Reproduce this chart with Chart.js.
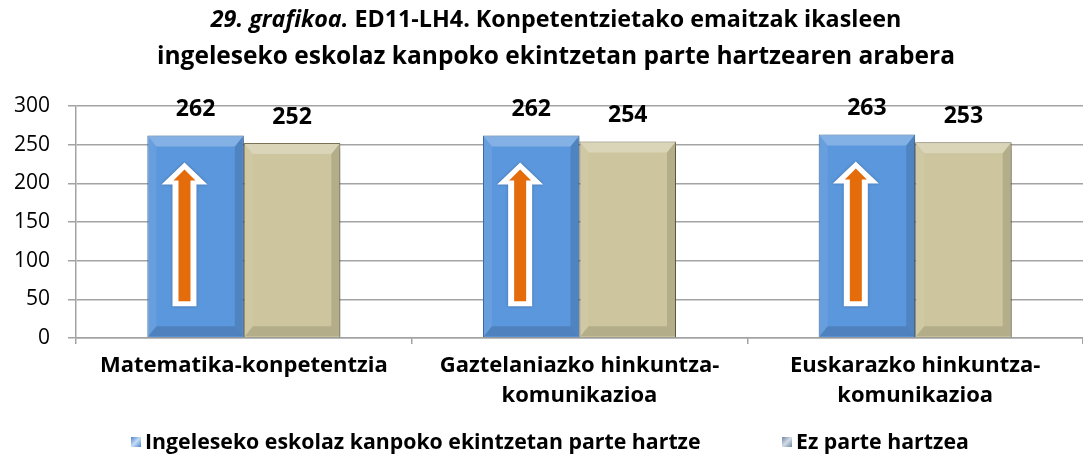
<!DOCTYPE html>
<html><head><meta charset="utf-8">
<script src="https://cdn.jsdelivr.net/npm/chart.js@4/dist/chart.umd.min.js"></script>
<style>html,body{margin:0;padding:0;background:#fff}canvas{display:block}</style>
</head><body>
<canvas id="c" width="1083" height="459"></canvas>
<script>
// ---- data ----
const titleLine1Italic = "29. grafikoa.";
const titleLine1Rest = " ED11-LH4. Konpetentzietako emaitzak ikasleen";
const titleLine2 = "ingeleseko eskolaz kanpoko ekintzetan parte hartzearen arabera";
const categories = [
  "Matematika-konpetentzia",
  ["Gaztelaniazko hinkuntza-", "komunikazioa"],
  ["Euskarazko hinkuntza-", "komunikazioa"]
];
const seriesNames = ["Ingeleseko eskolaz kanpoko ekintzetan parte hartze", "Ez parte hartzea"];
const participates = [262, 262, 263];
const notParticipates = [252, 254, 253];
const yTicks = [0, 50, 100, 150, 200, 250, 300];

// ---- style ----
const BOLD = "'Open Sans', sans-serif";
const GRID = "#a3a3a3";
const palette = [
  {body: "#5b97dc", top: "rgba(255,255,255,0.25)", left: "rgba(255,255,255,0.08)", right: "rgba(0,0,0,0.12)", bottom: "rgba(0,0,0,0.14)", border: "#3f6fa8"},
  {body: "#ccc59d", top: "rgba(255,255,255,0.28)", left: "rgba(255,255,255,0.06)", right: "rgba(0,0,0,0.12)", bottom: "rgba(0,0,0,0.12)", border: "#7e7757"}
];

const titlePlugin = {
  id: "mixedTitle",
  afterDraw(chart) {
    const ctx = chart.ctx;
    ctx.save();
    ctx.fillStyle = "#000";
    ctx.textBaseline = "middle";
    const cx = 556;
    const fI = "italic bold 23.3px " + BOLD, fB = "bold 23.3px " + BOLD;
    ctx.font = fI; const w1 = ctx.measureText(titleLine1Italic).width;
    ctx.font = fB; const w2 = ctx.measureText(titleLine1Rest).width;
    let x = cx - (w1 + w2) / 2;
    ctx.textAlign = "left";
    ctx.font = fI; ctx.fillText(titleLine1Italic, x, 20);
    ctx.font = fB; ctx.fillText(titleLine1Rest, x + w1, 20);
    ctx.font = "bold 24.5px " + BOLD;
    ctx.textAlign = "center";
    ctx.fillText(titleLine2, cx, 57);
    ctx.restore();
  }
};

const shadowPlugin = {
  id: "barShadow",
  beforeDatasetDraw(chart) {
    const ctx = chart.ctx;
    ctx.save();
    ctx.shadowColor = "rgba(0,0,0,0.35)";
    ctx.shadowBlur = 6;
    ctx.shadowOffsetX = 3;
    ctx.shadowOffsetY = 3;
  },
  afterDatasetDraw(chart) { chart.ctx.restore(); }
};

function poly(ctx, pts, color) {
  ctx.beginPath();
  ctx.moveTo(pts[0][0], pts[0][1]);
  for (let i = 1; i < pts.length; i++) ctx.lineTo(pts[i][0], pts[i][1]);
  ctx.closePath();
  ctx.fillStyle = color;
  ctx.fill();
}

const decoPlugin = {
  id: "deco",
  afterDatasetsDraw(chart) {
    const ctx = chart.ctx;
    ctx.save();
    chart.data.datasets.forEach((ds, di) => {
      const meta = chart.getDatasetMeta(di);
      const p = palette[di];
      meta.data.forEach((bar, i) => {
        const l = bar.x - bar.width / 2 + 1, r = bar.x + bar.width / 2 - 1;
        const t = bar.y + 1, b = bar.base - 1;
        const bv = 10, sv = 8;
        poly(ctx, [[l, t], [r, t], [r - sv, t + bv], [l + sv, t + bv]], p.top);
        poly(ctx, [[l, t], [l + sv, t + bv], [l + sv, b - bv], [l, b]], p.left);
        poly(ctx, [[r, t], [r, b], [r - sv, b - bv], [r - sv, t + bv]], p.right);
        poly(ctx, [[l, b], [l + sv, b - bv], [r - sv, b - bv], [r, b]], p.bottom);
        if (di === 0) {
          const cx = bar.x - bar.width * 0.115;
          const tip = bar.y + 27, bottom = bar.base - 31;
          ctx.shadowColor = "rgba(0,0,0,0.25)"; ctx.shadowBlur = 3;
          poly(ctx, [[cx, tip], [cx + 23, tip + 22], [cx + 12, tip + 22], [cx + 12, bottom],
                     [cx - 12, bottom], [cx - 12, tip + 22], [cx - 23, tip + 22]], "#ffffff");
          ctx.shadowColor = "transparent"; ctx.shadowBlur = 0;
          const t2 = tip + 7, b2 = bottom - 5;
          poly(ctx, [[cx, t2], [cx + 11, t2 + 11], [cx + 6, t2 + 11], [cx + 6, b2],
                     [cx - 6, b2], [cx - 6, t2 + 11], [cx - 11, t2 + 11]], "#e46c0a");
        }
        ctx.fillStyle = "#000";
        ctx.font = "bold 23px " + BOLD;
        ctx.textAlign = "center";
        ctx.textBaseline = "middle";
        ctx.fillText(String(ds.data[i]), bar.x, bar.y - 26);
      });
    });
    ctx.restore();
  }
};

const legendPlugin = {
  id: "customLegend",
  afterDraw(chart) {
    const ctx = chart.ctx;
    ctx.save();
    const xs = [131, 782];
    const y = 442;
    const boxCols = [["#c6ddf5", "#4a84cc"], ["#d3dbe6", "#6f86a3"]];
    chart.data.datasets.forEach((ds, i) => {
      const x = xs[i];
      const g = ctx.createLinearGradient(x, y - 5, x + 10, y + 5);
      g.addColorStop(0, boxCols[i][1]);
      g.addColorStop(0.5, boxCols[i][0]);
      g.addColorStop(1, boxCols[i][1]);
      ctx.fillStyle = g;
      ctx.fillRect(x, y - 5, 10, 10);
      ctx.fillStyle = "#000";
      ctx.font = "bold 21.3px " + BOLD;
      ctx.textAlign = "left";
      ctx.textBaseline = "middle";
      ctx.fillText(ds.label, x + 14, y + 1);
    });
    ctx.restore();
  }
};

new Chart(document.getElementById("c"), {
  type: "bar",
  data: {
    labels: categories,
    datasets: [
      {label: seriesNames[0], data: participates, backgroundColor: palette[0].body, borderColor: palette[0].border, borderWidth: 1},
      {label: seriesNames[1], data: notParticipates, backgroundColor: palette[1].body, borderColor: palette[1].border, borderWidth: 1}
    ]
  },
  options: {
    responsive: false,
    animation: false,
    layout: {padding: {top: 106, left: 0, right: 0, bottom: 0}},
    categoryPercentage: 0.575,
    barPercentage: 1,
    plugins: {legend: {display: false}, title: {display: false}, tooltip: {enabled: false}},
    scales: {
      x: {
        afterFit(s) { s.height = 121; },
        grid: {display: true, drawOnChartArea: false, tickLength: 6, color: GRID, lineWidth: 1.5, offset: true},
        border: {color: GRID, width: 1.5},
        ticks: {color: "#000", font: {family: BOLD, size: 22, weight: "bold", lineHeight: 1.4}, padding: 6, autoSkip: false, maxRotation: 0}
      },
      y: {
        min: 0, max: 300,
        afterFit(s) { s.width = 76; },
        afterBuildTicks(s) { s.ticks = yTicks.map(v => ({value: v})); },
        grid: {color: GRID, lineWidth: 1.5, tickLength: 8},
        border: {color: GRID, width: 1.5},
        ticks: {color: "#000", font: {family: "'Open Sans', sans-serif", size: 21}, padding: 18}
      }
    }
  },
  plugins: [titlePlugin, shadowPlugin, decoPlugin, legendPlugin]
});
</script>
</body></html>
